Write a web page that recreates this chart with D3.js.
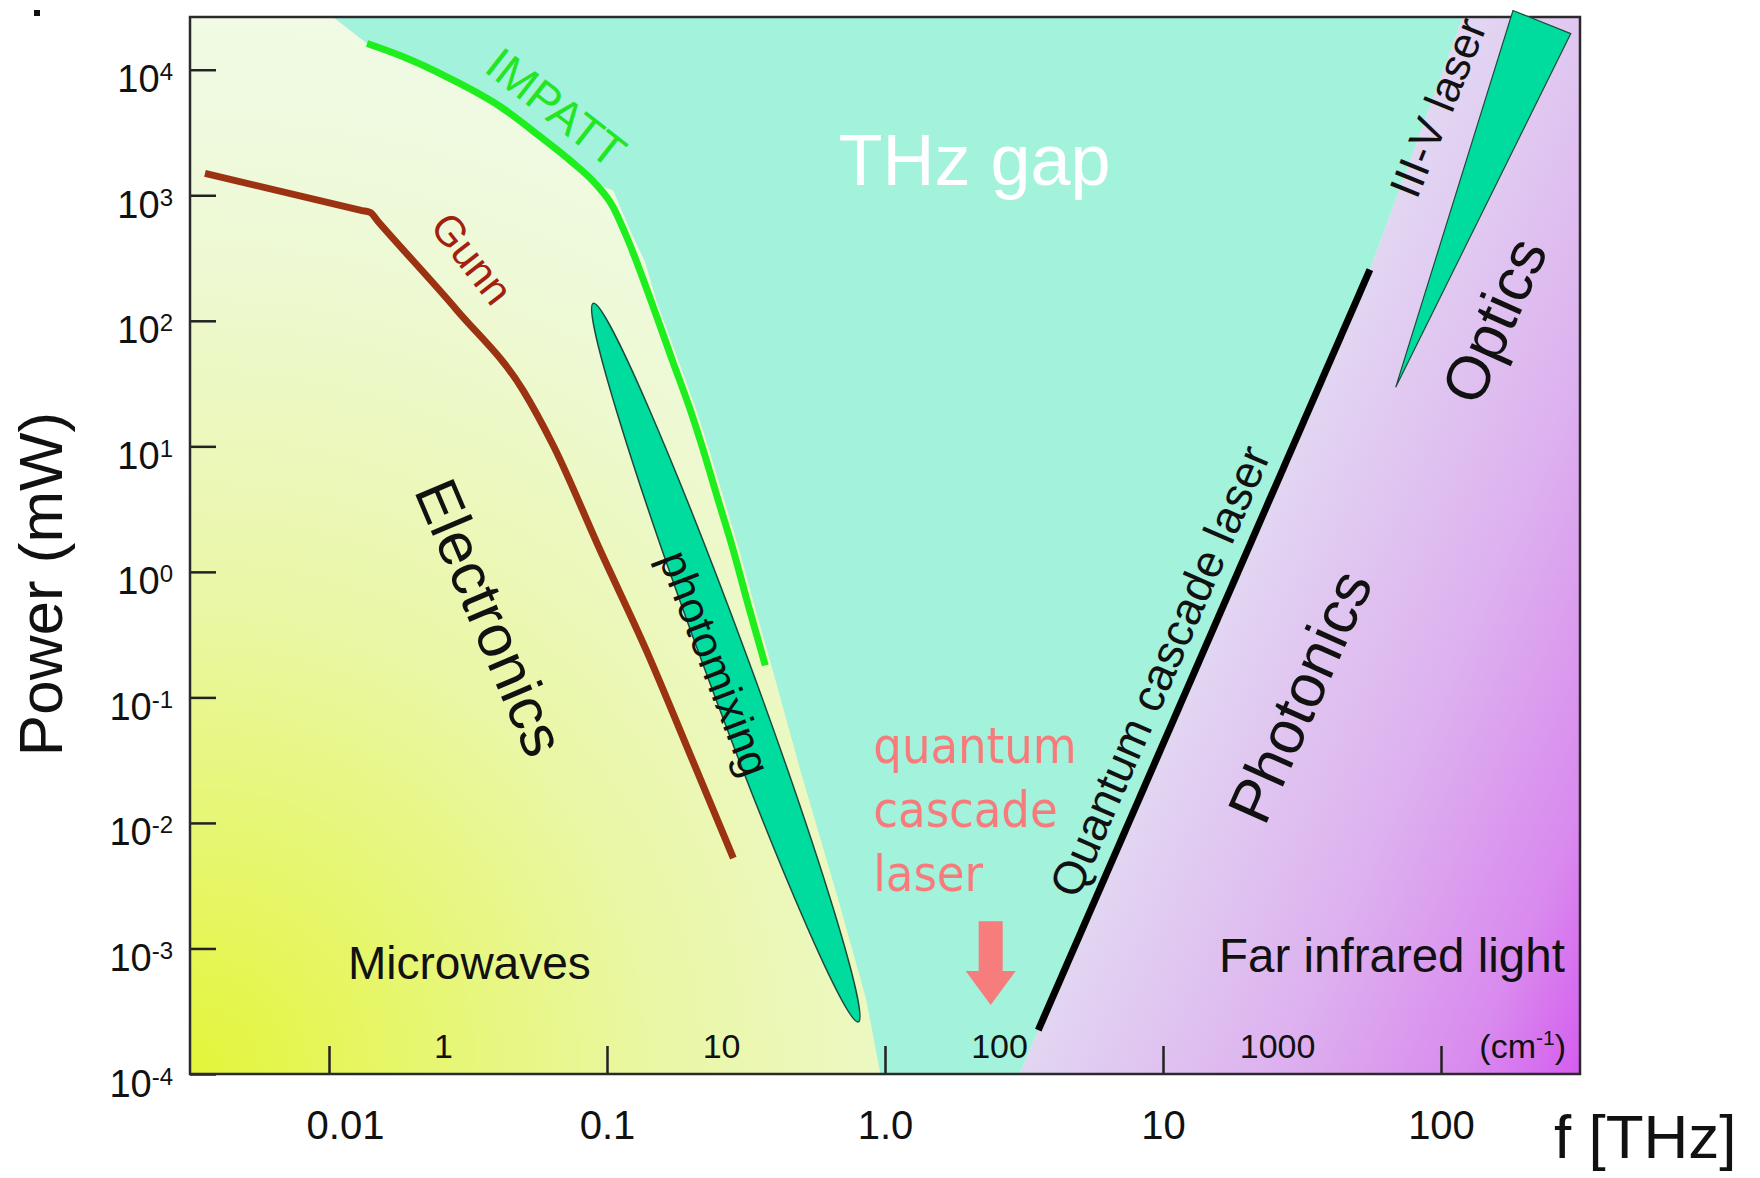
<!DOCTYPE html>
<html>
<head>
<meta charset="utf-8">
<script src="https://cdn.jsdelivr.net/npm/d3@7"></script>
<style>
  html, body { margin: 0; padding: 0; background: #fff; }
  svg { display: block; font-family: "Liberation Sans", Arial, sans-serif; }
</style>
</head>
<body>
<svg id="chart" width="1760" height="1178"></svg>
<script>
// axis ticks
var freqTicks = [0.01, 0.1, 1, 10, 100];
var freqTickLabels = ["0.01", "0.1", "1.0", "10", "100"];
var powerTicks = [1e-4, 1e-3, 1e-2, 1e-1, 1, 1e1, 1e2, 1e3, 1e4];
var waveNumbers = [1, 10, 100, 1000];          // cm^-1
var waveLabels = ["1", "10", "100", "1000"];

// [f THz, P mW]
var impatt = [
  [0.01371, 16180], [0.01803, 12970], [0.02726, 8510], [0.04126, 5094],
  [0.05745, 2938], [0.0737, 1892], [0.0907, 1242], [0.1044, 830],
  [0.1192, 436], [0.1430, 150.7], [0.1718, 48.4], [0.1995, 19.4],
  [0.222, 9.3], [0.2512, 3.72], [0.2846, 1.486], [0.3222, 0.542], [0.3710, 0.180]
];
var gunn = [
  [0.00358, 1493], [0.01315, 755], [0.01406, 730], [0.01501, 618],
  [0.0289, 121], [0.0499, 27.9], [0.0640, 10.2], [0.0945, 1.486],
  [0.1384, 0.238], [0.1995, 0.0347], [0.2846, 0.00525]
];
// quantum cascade laser line (ends)
var qcl = [[3.56, 2.24e-4], [55.5, 256]];
// photomixing ellipse, ends of long axis
var photomixing = [[0.0892, 137.7], [0.802, 2.6e-4]];
// III-V laser wedge
var laserWedge = [[181.5, 29600], [293, 19400], [68.7, 29.5]];
// arrow: [f, top P, head P, tip P]
var arrowQcl = [2.4, 1.65e-3, 6.6e-4, 3.54e-4];

var fMin = Math.pow(10, -2.5), fMax = Math.pow(10, 2.5);
var pMin = 1e-4, pMax = Math.pow(10, 4.42);

// THz gap outline
var gapRegion = [
  [0.01034, pMax], [0.01371, 16180], [0.01803, 12970], [0.02726, 8510],
  [0.04126, 5094], [0.05745, 2938], [0.0737, 1892], [0.0907, 1242],
  [0.1053, 1092], [0.1212, 525], [0.1372, 292], [0.1504, 145],
  [0.1804, 48.4], [0.2096, 19.4], [0.2333, 9.3], [0.2642, 3.72],
  [0.2991, 1.486], [0.3388, 0.542], [0.390, 0.180], [0.496, 0.0263],
  [0.6797, 2.43e-3], [0.857, 3.88e-4], [0.9625, pMin], [3.047, pMin],
  [3.56, 2.24e-4], [55.5, 256], [119.8, pMax]
];
var photonicsRegion = [
  [3.047, pMin], [3.56, 2.24e-4], [55.5, 256], [119.8, pMax], [fMax, pMax], [fMax, pMin]
];

var labels = [
  {text: "THz gap", f: 2.10, p: 1197, rot: 0, size: 72, color: "#ffffff"},
  {text: "IMPATT", f: 0.0656, p: 5000, rot: 38, size: 46, color: "#22e622", mid: true},
  {text: "Gunn", f: 0.0327, p: 314, rot: 52, size: 42, color: "#a3200f", mid: true},
  {text: "Electronics", f: 0.0380, p: 0.435, rot: 67, size: 60, color: "#111", mid: true},
  {text: "photomixing", f: 0.245, p: 0.187, rot: 69, size: 44, color: "#111", mid: true},
  {text: "Quantum cascade laser", f: 9.73, p: 0.162, rot: -66.5, size: 46, color: "#111", mid: true},
  {text: "Photonics", f: 31.0, p: 0.102, rot: -66, size: 61, color: "#111", mid: true},
  {text: "III-V laser", f: 97.4, p: 5000, rot: -68, size: 44, color: "#111", mid: true},
  {text: "Optics", f: 155, p: 100.7, rot: -66, size: 61, color: "#111", mid: true},
  {text: "Microwaves", f: 0.0117, p: 5.7e-4, rot: 0, size: 46, color: "#111", anchor: "start"},
  {text: "Far infrared light", f: 279, p: 6.5e-4, rot: 0, size: 47.5, color: "#111", anchor: "end"}
];
var qclWords = ["quantum", "cascade", "laser"];

var margin = {left: 190, top: 17, right: 180, bottom: 104};
var W = 1760 - margin.left - margin.right;
var H = 1178 - margin.top - margin.bottom;

var x = d3.scaleLog().domain([fMin, fMax]).range([0, W]);
var y = d3.scaleLog().domain([pMin, pMax]).range([H, 0]);

var svg = d3.select("#chart");
var defs = svg.append("defs");

var gYel = defs.append("radialGradient").attr("id", "gYel")
  .attr("gradientUnits", "userSpaceOnUse")
  .attr("cx", 0).attr("cy", H).attr("r", 1050);
gYel.append("stop").attr("offset", 0).attr("stop-color", "#e3f53a");
gYel.append("stop").attr("offset", 0.45).attr("stop-color", "#eaf7a6");
gYel.append("stop").attr("offset", 0.8).attr("stop-color", "#eef9d6");
gYel.append("stop").attr("offset", 1).attr("stop-color", "#f0fae4");

// purple runs across the QCL line towards the bottom right corner
var gPur = defs.append("linearGradient").attr("id", "gPur")
  .attr("gradientUnits", "userSpaceOnUse")
  .attr("x1", 1010).attr("y1", 633).attr("x2", 1484).attr("y2", 839);
gPur.append("stop").attr("offset", 0).attr("stop-color", "#e2d6f2");
gPur.append("stop").attr("offset", 0.45).attr("stop-color", "#ddb2ef");
gPur.append("stop").attr("offset", 0.8).attr("stop-color", "#d98aee");
gPur.append("stop").attr("offset", 1).attr("stop-color", "#d55def");

var g = svg.append("g").attr("transform", "translate(" + margin.left + "," + margin.top + ")");

var clip = defs.append("clipPath").attr("id", "plotClip");
clip.append("rect").attr("width", W).attr("height", H);

var area = g.append("g").attr("clip-path", "url(#plotClip)");
area.append("rect").attr("width", W).attr("height", H).attr("fill", "url(#gYel)");

var poly = d3.line().x(function(d) { return x(d[0]); }).y(function(d) { return y(d[1]); });

area.append("path").attr("d", poly(photonicsRegion) + "Z").attr("fill", "url(#gPur)");
area.append("path").attr("d", poly(gapRegion) + "Z").attr("fill", "#a2f2dc");

// photomixing ellipse
var e0 = [x(photomixing[0][0]), y(photomixing[0][1])];
var e1 = [x(photomixing[1][0]), y(photomixing[1][1])];
var eLen = Math.hypot(e1[0] - e0[0], e1[1] - e0[1]) / 2;
var eAng = Math.atan2(e1[1] - e0[1], e1[0] - e0[0]) * 180 / Math.PI;
area.append("ellipse")
  .attr("transform", "translate(" + (e0[0] + e1[0]) / 2 + "," + (e0[1] + e1[1]) / 2 + ") rotate(" + eAng + ")")
  .attr("rx", eLen).attr("ry", 22)
  .attr("fill", "#00dc9e").attr("stroke", "#1d4a3c").attr("stroke-width", 1.5);

var curve = d3.line().curve(d3.curveMonotoneX)
  .x(function(d) { return x(d[0]); }).y(function(d) { return y(d[1]); });

area.append("path").attr("d", curve(gunn)).attr("fill", "none")
  .attr("stroke", "#9b3312").attr("stroke-width", 7).attr("stroke-linejoin", "round");
area.append("path").attr("d", curve(impatt)).attr("fill", "none")
  .attr("stroke", "#1eee1e").attr("stroke-width", 7);

area.append("path").attr("d", poly(qcl)).attr("stroke", "#000").attr("stroke-width", 7);

// arrow
var ax = x(arrowQcl[0]), aTop = y(arrowQcl[1]), aHead = y(arrowQcl[2]), aTip = y(arrowQcl[3]);
area.append("path")
  .attr("d", "M" + (ax - 12) + "," + aTop + "H" + (ax + 12) + "V" + aHead + "H" + (ax + 25) +
    "L" + ax + "," + aTip + "L" + (ax - 25) + "," + aHead + "H" + (ax - 12) + "Z")
  .attr("fill", "#f77c7c");

// texts
labels.forEach(function(l) {
  var t = g.append("text")
    .attr("transform", "translate(" + x(l.f) + "," + y(l.p) + ") rotate(" + l.rot + ")")
    .attr("text-anchor", l.anchor || "middle")
    .attr("font-size", l.size)
    .attr("fill", l.color)
    .text(l.text);
  if (l.mid) t.attr("dy", "0.35em");
});

var qt = g.append("text")
  .attr("x", x(0.908)).attr("y", y(0.0299))
  .attr("font-family", "'DejaVu Sans Condensed', 'DejaVu Sans', sans-serif")
  .attr("font-size", 50).attr("fill", "#f77b7b");
qclWords.forEach(function(w, i) {
  qt.append("tspan").attr("x", x(0.908)).attr("dy", i ? 64 : 0).text(w);
});

// wavenumber labels inside the plot
g.selectAll(".wn").data(waveNumbers).enter().append("text")
  .attr("x", function(d) { return x(d * 0.02998) - 18; })
  .attr("y", H - 16)
  .attr("text-anchor", "middle").attr("font-size", 34).attr("fill", "#111")
  .text(function(d, i) { return waveLabels[i]; });
var cm = g.append("text").attr("x", W - 14).attr("y", H - 16)
  .attr("text-anchor", "end").attr("font-size", 34).attr("fill", "#111");
cm.append("tspan").text("(cm");
cm.append("tspan").attr("font-size", 21).attr("dy", -13).text("-1");
cm.append("tspan").attr("dy", 13).text(")");

// axes
var xAxis = d3.axisBottom(x).tickValues(freqTicks)
  .tickFormat(function(d, i) { return freqTickLabels[i]; })
  .tickSizeInner(-28).tickSizeOuter(0).tickPadding(37);
var xg = g.append("g").attr("transform", "translate(0," + H + ")").call(xAxis);
xg.select(".domain").remove();
xg.selectAll(".tick line").attr("stroke", "#222").attr("stroke-width", 2.5);
xg.selectAll(".tick text").attr("font-size", 40).attr("fill", "#111")
  .attr("font-family", "'Liberation Sans', Arial, sans-serif")
  .attr("dx", function(d) { return d === 0.01 ? 16 : 0; });

var yAxis = d3.axisLeft(y).tickValues(powerTicks)
  .tickSizeInner(-26).tickSizeOuter(0).tickPadding(17);
var yg = g.append("g").call(yAxis);
yg.select(".domain").remove();
yg.selectAll(".tick line").attr("stroke", "#222").attr("stroke-width", 2.5);
yg.selectAll(".tick text").each(function(d) {
  var t = d3.select(this);
  var ex = Math.round(Math.log10(d));
  t.text(null).attr("dy", 22).attr("font-size", 38).attr("fill", "#111")
    .attr("font-family", "'Liberation Sans', Arial, sans-serif");
  t.append("tspan").text("10");
  t.append("tspan").attr("font-size", 24).attr("dy", -12).text(String(ex));
});

g.append("rect").attr("width", W).attr("height", H)
  .attr("fill", "none").attr("stroke", "#2a2a2a").attr("stroke-width", 2.5);

// wedge drawn over the frame (its tip pokes above)
g.append("path").attr("d", poly(laserWedge) + "Z")
  .attr("fill", "#00dc9e").attr("stroke", "#1d4a3c").attr("stroke-width", 1.2);

// axis titles
svg.append("text").attr("transform", "translate(62,584) rotate(-90)")
  .attr("text-anchor", "middle").attr("font-size", 62).attr("fill", "#111")
  .text("Power (mW)");
svg.append("text").attr("x", 1554).attr("y", 1158)
  .attr("font-size", 62).attr("fill", "#111").text("f [THz]");

svg.append("rect").attr("x", 34).attr("y", 10).attr("width", 6).attr("height", 6).attr("fill", "#111");
</script>
</body>
</html>
